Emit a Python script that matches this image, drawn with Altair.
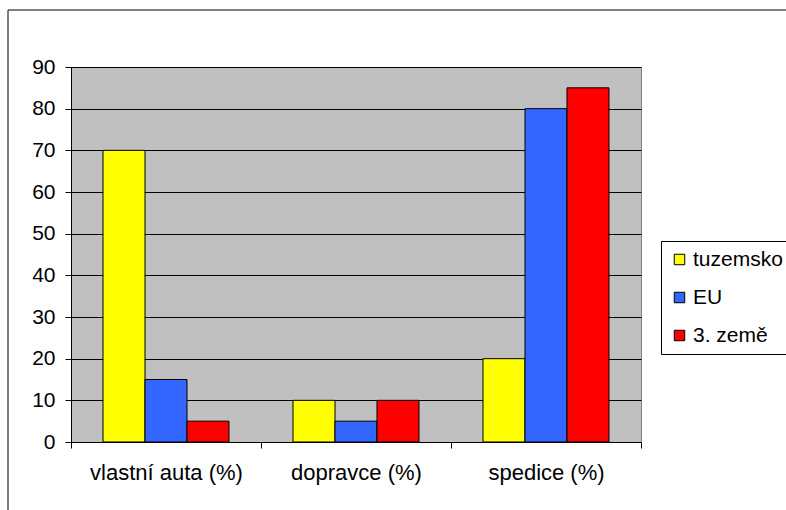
import altair as alt
import pandas as pd

# Share of transport mode by destination
categories = ["vlastní auta (%)", "dopravce (%)", "spedice (%)"]
series = ["tuzemsko", "EU", "3. země"]
tuzemsko = [70, 10, 20]
eu = [15, 5, 80]
treti_zeme = [5, 10, 85]
colors = ["#FFFF00", "#3366FF", "#FF0000"]

rows = []
for name, vals in zip(series, [tuzemsko, eu, treti_zeme]):
    for cat, v in zip(categories, vals):
        rows.append({"kategorie": cat, "rada": name, "hodnota": v})
df = pd.DataFrame(rows)

FONT = "Liberation Sans"

bars = alt.Chart(df).mark_bar(stroke="black", strokeWidth=1).encode(
    x=alt.X(
        "kategorie:N",
        sort=categories,
        scale=alt.Scale(paddingInner=0, paddingOuter=0),
        axis=alt.Axis(
            title=None, labelAngle=0, tickBand="extent", tickSize=6,
            domainColor="black", tickColor="black", labelColor="black",
            labelPadding=14, labelFontSize=22, labelFont=FONT, grid=False,
        ),
    ),
    xOffset=alt.XOffset(
        "rada:N", sort=series,
        scale=alt.Scale(paddingOuter=0.762, paddingInner=0),
    ),
    y=alt.Y(
        "hodnota:Q",
        scale=alt.Scale(domain=[0, 90], nice=False),
        axis=alt.Axis(
            title=None, values=list(range(0, 100, 10)), grid=True,
            gridColor="black", gridWidth=1, domainColor="black",
            tickColor="black", tickSize=6, labelPadding=10,
            labelFontSize=21, labelFont=FONT, labelColor="black",
        ),
    ),
    color=alt.Color(
        "rada:N",
        sort=series,
        scale=alt.Scale(domain=series, range=colors),
        legend=alt.Legend(
            title=None, orient="none", legendX=590, legendY=174,
            fillColor="white", strokeColor="black", padding=8,
            symbolType="square", symbolSize=110, symbolStrokeColor="black",
            symbolStrokeWidth=1, symbolOpacity=1, labelFontSize=21,
            labelFont=FONT, labelColor="black", rowPadding=16, labelOffset=3,
        ),
    ),
)

# outer chart frame
frame = alt.Chart(pd.DataFrame({"a": [0]})).mark_rect(
    fill=None, stroke="black", strokeWidth=1
).encode(
    x=alt.value(-63), x2=alt.value(800), y=alt.value(-57), y2=alt.value(600)
)

chart = alt.layer(frame, bars).properties(
    width=570,
    height=375,
    autosize=alt.AutoSizeParams(type="none"),
    padding={"left": 71, "top": 67, "right": 145, "bottom": 68},
    background="white",
).configure_view(fill="#C0C0C0", stroke="#808080")

chart.save("out.html", embed_options={"renderer": "svg", "actions": False})
